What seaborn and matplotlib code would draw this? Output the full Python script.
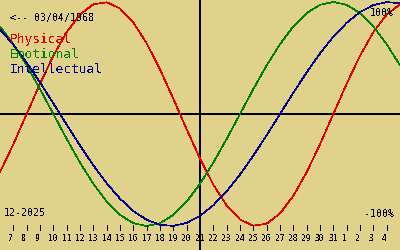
import matplotlib
matplotlib.use("Agg")
import matplotlib.pyplot as plt
import matplotlib.transforms as mtransforms
import seaborn as sns
import pandas as pd

# ---- data ----
days = list(range(6, 37))  # Dec 6 .. Jan 5 (day index, 32..36 = Jan 1..5)
physical = [-0.5196, -0.2698, 0.0, 0.2698, 0.5196, 0.7308, 0.8879, 0.9791, 0.9977,
            0.9423, 0.8170, 0.6311, 0.3984, 0.1362, -0.1362, -0.3984, -0.6311,
            -0.8170, -0.9423, -0.9977, -0.9791, -0.8879, -0.7308, -0.5196, -0.2698,
            0.0, 0.2698, 0.5196, 0.7308, 0.8879, 0.9791]
emotional = [0.7818, 0.6235, 0.4339, 0.2225, 0.0, -0.2225, -0.4339, -0.6235, -0.7818,
             -0.9010, -0.9749, -1.0, -0.9749, -0.9010, -0.7818, -0.6235, -0.4339,
             -0.2225, 0.0, 0.2225, 0.4339, 0.6235, 0.7818, 0.9010, 0.9749, 1.0,
             0.9749, 0.9010, 0.7818, 0.6235, 0.4339]
intellectual = [0.7557, 0.6182, 0.4582, 0.2817, 0.0951, -0.0951, -0.2817, -0.4582,
                -0.6182, -0.7557, -0.8660, -0.9450, -0.9898, -0.9989, -0.9718,
                -0.9096, -0.8146, -0.6901, -0.5406, -0.3717, -0.1893, 0.0, 0.1893,
                0.3717, 0.5406, 0.6901, 0.8146, 0.9096, 0.9718, 0.9989, 0.9898]
series_names = ["Physical", "Emotional", "Intellectual"]
tick_days = list(range(7, 36))
tick_labels = [str(d) for d in range(7, 32)] + ["1", "2", "3", "4"]
today = 21
birth_text = "<-- 03/04/1968"
month_text = "12-2025"

# ---- style ----
bg = "#e0d28a"
colors = {"Physical": "#e00000", "Emotional": "#008000", "Intellectual": "#000090"}
sns.set_style("white")
plt.rcParams["font.family"] = ["DejaVu Sans Mono", "DejaVu Sans"]
plt.rcParams["text.antialiased"] = False

df = pd.DataFrame({
    "day": days * 3,
    "value": physical + emotional + intellectual,
    "series": [n for n in series_names for _ in days],
})

fig = plt.figure(figsize=(4, 2.5), dpi=100, facecolor=bg)
ax = fig.add_axes([0, 0, 1, 1])
ax.set_facecolor(bg)

sns.lineplot(data=df, x="day", y="value", hue="series", palette=colors,
             estimator=None, sort=False, linewidth=0.5, legend=False, ax=ax,
             antialiased=False)

ax.axhline(0, color="black", lw=1.44, antialiased=False, zorder=0.5)
ax.axvline(today, color="black", lw=1.44, antialiased=False, zorder=0.5)

ax.set_xlim(6, 36)
ax.set_ylim((114 - 250) / 112, 114 / 112)
ax.set_axis_off()

# tick marks
ax.vlines(tick_days, 0.08, 0.1, transform=ax.get_xaxis_transform(),
          color="black", lw=0.5, antialiased=False)
# tick labels
tr = mtransforms.blended_transform_factory(ax.transData, fig.transFigure)
tr = tr + mtransforms.ScaledTranslation(-5 / 100, 0, fig.dpi_scale_trans)
for d, lab in zip(tick_days, tick_labels):
    ax.text(d, 1 - 241 / 250, lab, transform=tr, ha="left", va="baseline",
            fontsize=5.8, color="black")

def ftext(x, y, s, **kw):
    fig.text(x / 400, 1 - y / 250, s, va="baseline", **kw)

ftext(10, 20.7, birth_text, fontsize=7.2, color="black")
ftext(10, 42.5, "Physical", fontsize=9.3, color=colors["Physical"])
ftext(10, 57.7, "Emotional", fontsize=9.3, color=colors["Emotional"])
ftext(10, 72.7, "Intellectual", fontsize=9.3, color=colors["Intellectual"])
ftext(394, 16, "100%", fontsize=7.2, color="black", ha="right")
ftext(394, 217, "-100%", fontsize=7.2, color="black", ha="right")
ftext(4, 216, month_text, fontsize=7.2, color="black")

fig.savefig("out.png", dpi=100, facecolor=bg)
